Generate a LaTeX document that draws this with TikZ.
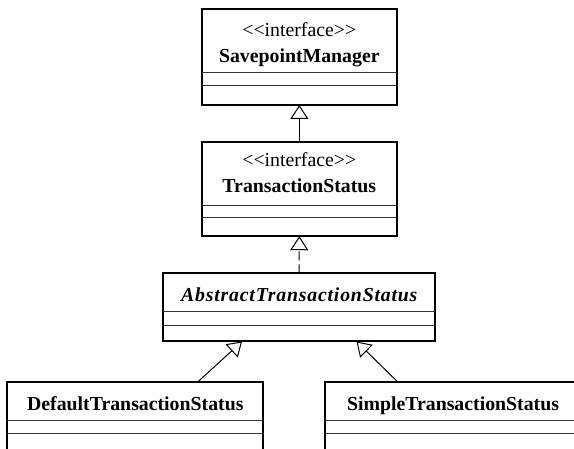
\documentclass[tikz,border=0pt]{standalone}
\usepackage{fontspec}
\setmainfont{Liberation Serif}
\usetikzlibrary{arrows.meta}

\tikzset{
  umlbox/.style={draw, line width=2pt, inner sep=0pt, outer sep=0pt, anchor=north west},
  divider/.style={line width=1pt, black!80},
  stereo/.style={font=\fontsize{19.8}{22}\selectfont, anchor=base, inner sep=0pt},
  cname/.style={font=\fontsize{19.8}{22}\selectfont\bfseries, anchor=base, inner sep=0pt},
  aname/.style={font=\fontsize{19.8}{22}\selectfont\bfseries\itshape\addfontfeature{LetterSpace=4}, anchor=base, inner sep=0pt},
  gen/.style={line width=1pt, -{Triangle[open, length=14pt, width=18pt, line width=1pt]}},
  realize/.style={gen, dash pattern=on 9pt off 4pt},
}
% two separate angle brackets, kept apart so they are not set as guillemets
\newcommand{\lguil}{<\kern0pt<}
\newcommand{\rguil}{>\kern0pt>}

\begin{document}
\begin{tikzpicture}[x=1pt, y=-1pt]
  \useasboundingbox (0,0) rectangle (574,449);
  \clip (0,0) rectangle (574,449);

  % SavepointManager interface
  \node[umlbox, minimum width=195.3pt, minimum height=96pt] (sm) at (201.7,9) {};
  \draw[divider] ([yshift=-64pt]sm.north west) -- ([yshift=-64pt]sm.north east);
  \draw[divider] ([yshift=-77pt]sm.north west) -- ([yshift=-77pt]sm.north east);
  \node[stereo] (smst) at (299.3,37) {\lguil interface\rguil};
  \node[cname] (smnm) at (299.3,62.5) {SavepointManager};

  % TransactionStatus interface
  \node[umlbox, minimum width=195.3pt, minimum height=94.5pt] (ts) at (201.7,141.7) {};
  \draw[divider] ([yshift=-63.5pt]ts.north west) -- ([yshift=-63.5pt]ts.north east);
  \draw[divider] ([yshift=-75.8pt]ts.north west) -- ([yshift=-75.8pt]ts.north east);
  \node[stereo] (tsst) at (299.3,166.7) {\lguil interface\rguil};
  \node[cname] (tsnm) at (299.3,192.3) {TransactionStatus};

  % AbstractTransactionStatus abstract class
  \node[umlbox, minimum width=271.4pt, minimum height=68.2pt] (ats) at (163.3,273.3) {};
  \draw[divider] ([yshift=-38.7pt]ats.north west) -- ([yshift=-38.7pt]ats.north east);
  \draw[divider] ([yshift=-52pt]ats.north west) -- ([yshift=-52pt]ats.north east);
  \node[aname] (atsnm) at (299.3,301.5) {AbstractTransactionStatus};

  % DefaultTransactionStatus class
  \node[umlbox, minimum width=256pt, minimum height=100pt] (dts) at (7.3,381.7) {};
  \draw[divider] ([yshift=-39.3pt]dts.north west) -- ([yshift=-39.3pt]dts.north east);
  \draw[divider] ([yshift=-51.6pt]dts.north west) -- ([yshift=-51.6pt]dts.north east);
  \node[cname] (dtsnm) at (135.3,410.2) {DefaultTransactionStatus};

  % SimpleTransactionStatus class
  \node[umlbox, minimum width=256pt, minimum height=100pt] (sts) at (325,381.7) {};
  \draw[divider] ([yshift=-39.3pt]sts.north west) -- ([yshift=-39.3pt]sts.north east);
  \draw[divider] ([yshift=-51.6pt]sts.north west) -- ([yshift=-51.6pt]sts.north east);
  \node[cname] (stsnm) at (453,410.2) {SimpleTransactionStatus};

  % attachment points of the subclass links
  \coordinate (dtshook) at ([xshift=190.7pt]dts.north west);
  \coordinate (stshook) at ([xshift=72.5pt]sts.north west);
  \coordinate (atsleft) at ([xshift=78.7pt]ats.south west);
  \coordinate (atsright) at ([xshift=193.2pt]ats.south west);

  % generalisation and realisation links
  \draw[gen] (ts.north) -- (sm.south);
  \draw[realize] (ats.north) -- (ts.south);
  \draw[gen] (dtshook) -- (atsleft);
  \draw[gen] (stshook) -- (atsright);
\end{tikzpicture}
\end{document}
